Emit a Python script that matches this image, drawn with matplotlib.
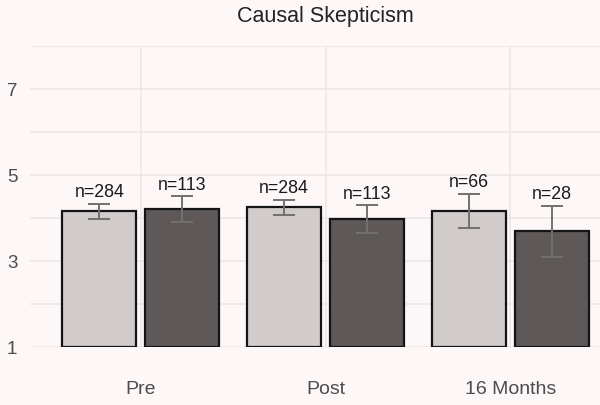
import numpy as np
import matplotlib.pyplot as plt
from matplotlib.ticker import MultipleLocator

plt.rcParams['font.family'] = ['Liberation Sans', 'DejaVu Sans']

# data
times = ['Pre', 'Post', '16 Months']
means_a = [4.15, 4.24, 4.16]
means_b = [4.20, 3.97, 3.68]
se_a = [0.18, 0.17, 0.40]
se_b = [0.30, 0.32, 0.60]
n_a = [284, 284, 66]
n_b = [113, 113, 28]

bg = '#fdf7f7'
grid_col = '#ece5e5'
col_a = '#d1cbcb'
col_b = '#5e5858'
err_col = '#737070'

fig = plt.figure(figsize=(6, 4.06), dpi=100, facecolor=bg)
ax = fig.add_axes([30 / 600, (406 - 347.7) / 406, 591 / 600, 301 / 406])
ax.set_facecolor(bg)

x = np.arange(1, len(times) + 1)
off = 0.225
w = 0.4

for xs, m, se, ns, c in [(x - off, means_a, se_a, n_a, col_a),
                         (x + off, means_b, se_b, n_b, col_b)]:
    m = np.array(m)
    se = np.array(se)
    ax.bar(xs, m - 1, bottom=1, width=w, color=c, edgecolor='#141414',
           linewidth=1.6, zorder=3)
    ax.errorbar(xs, m, yerr=se, fmt='none', ecolor=err_col, elinewidth=1.4,
                capsize=8, capthick=1.4, zorder=4)
    for xi, top, n in zip(xs, m + se, ns):
        ax.annotate('n=%d' % n, (xi, top), xytext=(0, 5.5),
                    textcoords='offset points', ha='center', va='baseline',
                    fontsize=12.8, color='#1a1a1a', zorder=5)

ax.set_xlim(0.4, 3.6)
ax.set_ylim(1, 8)
ax.set_xticks(x)
ax.set_xticklabels(times)
ax.set_yticks([1, 3, 5, 7])
ax.yaxis.set_minor_locator(MultipleLocator(1))

ax.grid(True, which='major', color=grid_col, linewidth=1.1, zorder=0)
ax.grid(True, which='minor', axis='y', color=grid_col, linewidth=1.1, zorder=0)
ax.set_axisbelow(True)

ax.tick_params(axis='x', length=0, pad=24, labelsize=14, labelcolor='#4d4d4d')
ax.tick_params(axis='y', which='both', length=0, pad=9, labelsize=13.5,
               labelcolor='#4d4d4d')
for s in ax.spines.values():
    s.set_visible(False)

ax.set_title('Causal Skepticism', fontsize=15.5, color='#222222', pad=18)

fig.savefig('out.png', dpi=100, facecolor=bg)
